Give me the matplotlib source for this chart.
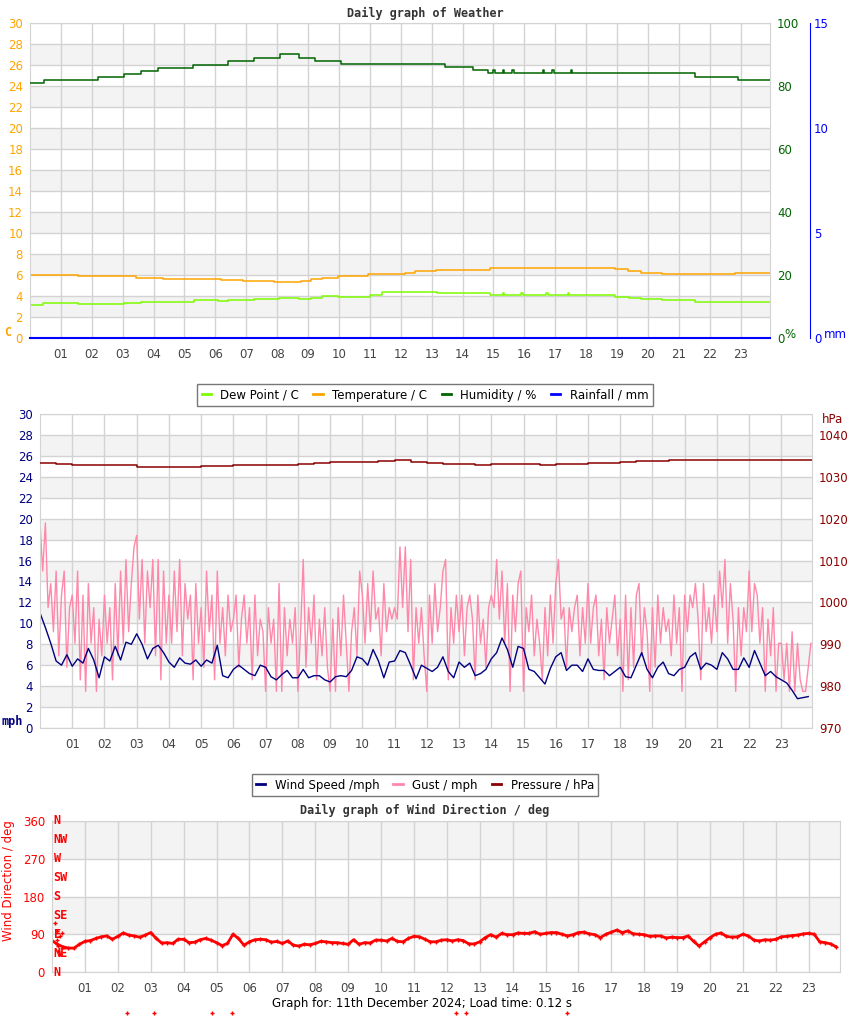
import numpy as np
import matplotlib
matplotlib.use('Agg')
import matplotlib.pyplot as plt
from matplotlib.lines import Line2D
from matplotlib.transforms import blended_transform_factory

# ---------------- weather panel (step values: hour the value starts at) -------------
temp_hours = [0, 1.55, 2.43, 3.42, 4.29, 6.17, 6.9, 7.9, 8.76, 9.08, 9.46, 9.98,
              10.95, 12.15, 12.47, 13.15, 14.9, 18.93, 19.35, 19.77, 20.45, 22.81, 23.95]
temp_c = [6.03, 5.93, 5.88, 5.69, 5.59, 5.5, 5.4, 5.3, 5.4, 5.59, 5.74, 5.88,
          6.07, 6.19, 6.38, 6.48, 6.64, 6.54, 6.41, 6.16, 6.07, 6.16, 6.16]

dew_hours = [0, 0.41, 1.55, 3.04, 3.59, 5.3, 6.1, 6.4, 7.24, 8.05, 8.7, 9.08, 9.46,
             9.98, 11.02, 11.4, 13.18, 14.9, 15.3, 15.35, 15.9, 15.95, 16.7, 16.75,
             17.4, 17.45, 18.93, 19.4, 19.77, 20.45, 21.52, 23.95]
dew_c = [3.11, 3.3, 3.2, 3.36, 3.43, 3.59, 3.5, 3.62, 3.71, 3.84, 3.71, 3.84, 3.97,
         3.9, 4.06, 4.35, 4.29, 4.06, 4.29, 4.06, 4.29, 4.06, 4.29, 4.06,
         4.29, 4.06, 3.94, 3.84, 3.71, 3.62, 3.4, 3.4]

hum_hours = [0, 0.45, 2.2, 3.04, 3.59, 4.14, 5.27, 6.4, 7.24, 8.08, 8.72, 9.24, 10.05,
             13.44, 14.35, 14.83, 15.0, 15.05, 15.3, 15.35, 15.6, 15.65, 16.6, 16.65,
             16.9, 16.95, 17.5, 17.55, 21.52, 22.91, 23.95]
hum_pct = [80.9, 81.8, 83.0, 83.9, 84.9, 85.8, 86.8, 87.8, 88.8, 90.2, 88.8, 87.8, 86.9,
           85.9, 85.0, 84.1, 85.0, 84.1, 85.0, 84.1, 85.0, 84.1, 85.0, 84.1,
           85.0, 84.1, 85.0, 84.1, 83.0, 81.9, 81.9]

rain_hours = [0, 23.95]
rain_mm = [0.0, 0.0]

# ---------------- wind panel ----------------
# wind speed, mph, every 10 minutes (one row per hour)
wind_mph = [
    [11.0, 9.6, 8.1, 6.4, 6.0, 7.0], [5.9, 6.6, 6.2, 7.6, 6.5, 4.8],
    [6.8, 6.4, 7.8, 6.5, 8.2, 8.0], [9.0, 8.0, 6.6, 7.6, 7.9, 7.2],
    [6.3, 5.8, 6.7, 6.2, 6.1, 6.5], [5.9, 6.5, 6.2, 7.9, 5.0, 4.8],
    [5.6, 6.0, 5.6, 5.2, 5.0, 6.0], [5.8, 4.9, 4.6, 5.1, 5.5, 4.8],
    [4.8, 5.6, 4.8, 5.0, 5.0, 4.6], [4.4, 4.9, 5.0, 4.9, 5.5, 6.8],
    [6.6, 6.0, 7.5, 6.4, 4.8, 6.3], [6.4, 7.4, 7.2, 6.0, 4.7, 6.0],
    [5.7, 5.4, 5.8, 6.8, 5.4, 4.8], [6.3, 5.8, 6.2, 5.0, 5.2, 5.6],
    [6.6, 7.2, 8.6, 7.5, 5.8, 7.8], [7.6, 5.6, 5.4, 4.8, 4.2, 5.7],
    [6.8, 7.2, 5.5, 6.0, 6.0, 5.4], [6.6, 5.6, 5.5, 5.5, 5.0, 5.4],
    [5.8, 4.9, 4.8, 6.0, 7.2, 5.6], [4.8, 5.8, 6.3, 5.2, 5.0, 5.6],
    [5.8, 6.8, 7.2, 5.6, 6.2, 6.0], [5.6, 7.2, 6.6, 5.6, 5.6, 6.7],
    [5.8, 7.4, 6.2, 5.0, 5.4, 4.9], [4.6, 4.3, 3.6, 2.8, 2.9, 3.0],
]

# gust, mph, every 5 minutes (one row per hour)
gust_mph = [
    [19.6, 15.0, 19.6, 11.5, 13.8, 9.2, 15.0, 6.9, 12.7, 15.0, 5.8, 11.5],
    [12.7, 8.1, 15.0, 4.6, 12.7, 3.5, 13.8, 8.1, 11.5, 3.5, 10.4, 6.9],
    [12.7, 8.1, 11.5, 4.6, 13.8, 6.9, 15.0, 8.1, 16.1, 9.2, 13.8, 17.3],
    [18.4, 10.4, 16.1, 8.1, 15.0, 11.5, 16.1, 6.9, 16.1, 4.6, 15.0, 8.1],
    [12.7, 8.1, 15.0, 9.2, 16.1, 6.9, 13.8, 10.4, 12.7, 4.6, 13.8, 8.1],
    [11.5, 5.8, 15.0, 9.2, 12.7, 4.6, 15.0, 8.1, 11.5, 6.9, 12.7, 9.2],
    [10.4, 12.7, 5.8, 10.4, 12.7, 8.1, 11.5, 4.6, 12.7, 6.9, 10.4, 9.2],
    [3.5, 11.5, 8.1, 10.4, 3.5, 13.8, 3.5, 11.5, 6.9, 10.4, 8.1, 11.5],
    [3.5, 9.2, 16.1, 5.8, 11.5, 8.1, 12.7, 4.6, 10.4, 6.9, 11.5, 5.8],
    [3.5, 10.4, 3.5, 11.5, 6.9, 12.7, 8.1, 3.5, 9.2, 11.5, 6.9, 15.0],
    [12.7, 8.1, 13.8, 9.2, 15.0, 10.4, 11.5, 6.9, 13.8, 9.2, 11.5, 10.4],
    [11.5, 10.4, 17.3, 11.5, 17.3, 9.2, 16.1, 4.6, 11.5, 8.1, 11.5, 6.9],
    [3.5, 12.7, 8.1, 13.8, 9.2, 11.5, 15.0, 16.1, 4.6, 11.5, 8.1, 12.7],
    [9.2, 12.7, 6.9, 11.5, 12.7, 10.4, 4.6, 12.7, 8.1, 10.4, 5.8, 11.5],
    [12.7, 11.5, 16.1, 10.4, 15.0, 8.1, 13.8, 3.5, 12.7, 9.2, 13.8, 15.0],
    [3.5, 11.5, 9.2, 12.7, 6.9, 10.4, 8.1, 4.6, 11.5, 6.9, 12.7, 8.1],
    [13.8, 16.1, 10.4, 11.5, 5.8, 11.5, 9.2, 11.5, 12.7, 6.9, 11.5, 8.1],
    [13.8, 8.1, 11.5, 12.7, 6.9, 10.4, 4.6, 11.5, 8.1, 10.4, 12.7, 6.9],
    [10.4, 3.5, 12.7, 4.6, 11.5, 5.8, 12.7, 13.8, 6.9, 11.5, 9.2, 3.5],
    [11.5, 5.8, 12.7, 8.1, 11.5, 9.2, 10.4, 6.9, 12.7, 8.1, 11.5, 3.5],
    [12.7, 9.2, 12.7, 11.5, 13.8, 10.4, 4.6, 13.8, 9.2, 11.5, 8.1, 12.7],
    [9.2, 15.0, 11.5, 16.1, 8.1, 13.8, 10.4, 3.5, 11.5, 6.9, 11.5, 9.2],
    [15.0, 9.2, 13.8, 12.7, 8.1, 11.5, 3.5, 10.4, 6.9, 11.5, 3.5, 8.1],
    [8.1, 4.6, 8.1, 3.5, 9.2, 3.5, 8.1, 4.6, 3.5, 3.5, 5.8, 8.1],
]

# pressure, hPa, every 30 minutes
pressure_hpa = [1033.3, 1033.0, 1032.9, 1032.9, 1032.8, 1032.7, 1032.4, 1032.4,
                1032.4, 1032.4, 1032.5, 1032.6, 1032.8, 1032.8, 1032.8, 1032.8,
                1033.1, 1033.3, 1033.5, 1033.5, 1033.6, 1033.8, 1034.0, 1033.5,
                1033.2, 1033.1, 1033.0, 1032.9, 1033.0, 1033.0, 1033.0, 1032.9,
                1033.0, 1033.1, 1033.3, 1033.4, 1033.5, 1033.7, 1033.8, 1033.9,
                1034.0, 1034.0, 1034.0, 1034.0, 1034.0, 1034.0, 1034.0, 1034.0, 1034.0]

# ---------------- wind direction panel, deg, every 10 minutes ----------------
wind_dir = [
    [75, 66, 60, 57, 57, 66], [73, 75, 80, 84, 86, 78], [85, 93, 88, 86, 83, 88],
    [94, 80, 69, 70, 68, 78], [78, 70, 71, 77, 80, 76], [70, 63, 68, 90, 80, 64],
    [72, 77, 78, 77, 71, 73], [68, 74, 64, 62, 66, 65], [68, 73, 72, 70, 70, 68],
    [66, 77, 66, 70, 69, 76], [76, 74, 80, 73, 72, 80], [85, 84, 78, 72, 72, 76],
    [77, 74, 77, 75, 67, 67], [72, 82, 89, 83, 92, 89], [89, 93, 92, 92, 96, 90],
    [92, 94, 94, 90, 86, 89], [94, 95, 91, 89, 82, 90], [95, 100, 94, 98, 91, 90],
    [89, 85, 86, 86, 81, 83], [82, 82, 86, 73, 62, 72], [82, 90, 93, 85, 83, 84],
    [90, 86, 76, 74, 77, 76], [78, 84, 85, 87, 88, 91], [92, 90, 72, 70, 67, 60],
]
stray_hours = [0.09, 0.14, 0.29, 0.24, 0.14, 0.19, 0.17, 0.24,
               2.28, 3.1, 4.86, 5.46, 12.29, 12.57, 15.66]
stray_deg = [116, 97, 93, 85, 77, 62, 49, 44,
             -98, -98, -98, -98, -98, -98, -98]
compass = ['N', 'NE', 'E', 'SE', 'S', 'SW', 'W', 'NW', 'N']

hour_ticks = np.arange(1, 24)
hour_labels = ['%02d' % h for h in hour_ticks]

GRID = '#d3d3d3'
BAND = '#f3f3f3'
END = 23.95
FS = 8.5
MONO = ['DejaVu Sans Mono']


def style_panel(ax, ymax, step, tick_color):
    ax.set_xlim(0, END)
    ax.set_ylim(0, ymax)
    for y0 in np.arange(step, ymax, 2 * step):
        ax.axhspan(y0, y0 + step, color=BAND, lw=0, zorder=0)
    ax.set_yticks(np.arange(0, ymax + step / 2, step))
    ax.set_xticks(hour_ticks)
    ax.set_xticklabels(hour_labels)
    ax.grid(True, color=GRID, lw=1)
    ax.set_axisbelow(True)
    ax.tick_params(length=0, labelsize=FS)
    ax.tick_params(axis='x', colors='#444444', pad=7)
    ax.tick_params(axis='y', colors=tick_color, pad=5)
    for s in ax.spines.values():
        s.set_color(GRID)


def hide_spines(ax):
    for s in ax.spines.values():
        s.set_visible(False)


fig = plt.figure(figsize=(8.5, 10.17), dpi=100)
W, H = 850.0, 1017.0

# ---------------- top: weather ----------------
ax1 = fig.add_axes([30 / W, 1 - 338 / H, 740 / W, 315 / H])
style_panel(ax1, 30, 2, 'orange')
ax1.step(dew_hours, dew_c, where='post', color='#7cfc00', lw=1.1)
ax1.step(temp_hours, temp_c, where='post', color='#ffa500', lw=1.1)

ax1h = ax1.twinx()
ax1h.set_ylim(0, 100)
ax1h.set_yticks(np.arange(0, 101, 20))
ax1h.tick_params(length=0, labelsize=FS, colors='#006400', pad=5)
hide_spines(ax1h)
ax1h.step(hum_hours, hum_pct, where='post', color='#006400', lw=1.1)

ax1r = ax1.twinx()
ax1r.set_ylim(0, 15)
ax1r.set_yticks([0, 5, 10, 15])
hide_spines(ax1r)
ax1r.spines['right'].set_visible(True)
ax1r.spines['right'].set_position(('axes', 780 / 740))
ax1r.spines['right'].set_color('blue')
ax1r.tick_params(length=0, labelsize=FS, colors='blue', pad=3)
ax1r.plot(rain_hours, rain_mm, color='blue', lw=1.5, clip_on=False, zorder=5)
ax1r.set_xlim(0, END)

fig.text(0.5, 1 - 13 / H, 'Daily graph of Weather', ha='center', va='center',
         family=MONO, weight='bold', size=FS, color='#333333')
fig.text(4 / W, 1 - 332 / H, 'C', ha='left', va='center', family=MONO,
         weight='bold', size=FS, color='orange')
fig.text(784 / W, 1 - 334 / H, '%', ha='left', va='center', size=FS, color='#006400')
fig.text(824 / W, 1 - 334 / H, 'mm', ha='left', va='center', size=FS, color='blue')

leg1 = [Line2D([], [], color=c, lw=2) for c in ['#7cfc00', '#ffa500', '#006400', 'blue']]
fig.legend(leg1, ['Dew Point / C', 'Temperature / C', 'Humidity / %', 'Rainfall / mm'],
           loc='center', bbox_to_anchor=(0.5, 1 - 395 / H), ncol=4, fontsize=FS,
           frameon=True, fancybox=False, edgecolor='#777777', framealpha=1,
           handlelength=0.8, handletextpad=0.8, columnspacing=1.2,
           borderpad=0.35)

# ---------------- middle: wind speed / gust / pressure ----------------
wind = np.array(wind_mph).ravel()
gust = np.array(gust_mph).ravel()
wind_t = np.arange(len(wind)) / 6.0
gust_t = np.arange(len(gust)) / 12.0
pres = np.array(pressure_hpa)
pres_t = np.arange(len(pres)) / 2.0

ax2 = fig.add_axes([40 / W, 1 - 728 / H, 772 / W, 314 / H])
style_panel(ax2, 30, 2, 'navy')
ax2.plot(gust_t, gust, color='#ff88aa', lw=1)
ax2.plot(wind_t, wind, color='#000080', lw=1)

ax2p = ax2.twinx()
ax2p.set_ylim(970, 1045)
ax2p.set_yticks(np.arange(970, 1041, 10))
ax2p.tick_params(length=0, labelsize=FS, colors='#8b0000', pad=5)
hide_spines(ax2p)
ax2p.step(pres_t, pres, where='post', color='#8b0000', lw=1.1)
ax2p.set_xlim(0, END)

fig.text(2 / W, 1 - 722 / H, 'mph', ha='left', va='center', family=MONO,
         weight='bold', size=FS, color='navy')
fig.text(822 / W, 1 - 419 / H, 'hPa', ha='left', va='center', size=FS, color='#8b0000')

leg2 = [Line2D([], [], color=c, lw=2) for c in ['#000080', '#ff88aa', '#8b0000']]
fig.legend(leg2, ['Wind Speed /mph', 'Gust / mph', 'Pressure / hPa'],
           loc='center', bbox_to_anchor=(0.5, 1 - 785 / H), ncol=3, fontsize=FS,
           frameon=True, fancybox=False, edgecolor='#777777', framealpha=1,
           handlelength=0.8, handletextpad=0.8, columnspacing=1.2, borderpad=0.35)

# ---------------- bottom: wind direction ----------------
wdir = np.array(wind_dir).ravel()
wdir_t = np.arange(len(wdir)) / 6.0

ax3 = fig.add_axes([52 / W, 1 - 972 / H, 788 / W, 151 / H])
style_panel(ax3, 360, 90, 'red')
ax3.plot(wdir_t, wdir, color='red', lw=2, marker='+', ms=3.5, mew=1)
ax3.plot(stray_hours, stray_deg, ls='none', color='red', marker='+', ms=3,
         mew=1, clip_on=False)

tr = blended_transform_factory(ax3.transAxes, ax3.transData)
for i, name in enumerate(compass):
    ax3.text(0.002, i * 45, name, transform=tr, ha='left', va='center',
             family=MONO, weight='bold', size=FS, color='red')

fig.text(0.5, 1 - 810 / H, 'Daily graph of Wind Direction / deg', ha='center',
         va='center', family=MONO, weight='bold', size=FS, color='#333333')
fig.text(9 / W, 1 - 881 / H, 'Wind Direction / deg', ha='center', va='center',
         rotation=90, size=FS, color='red')
fig.text(0.496, 1 - 1004 / H, 'Graph for: 11th December 2024; Load time: 0.12 s',
         ha='center', va='center', size=FS, color='black')

fig.savefig('out.png', dpi=100)
